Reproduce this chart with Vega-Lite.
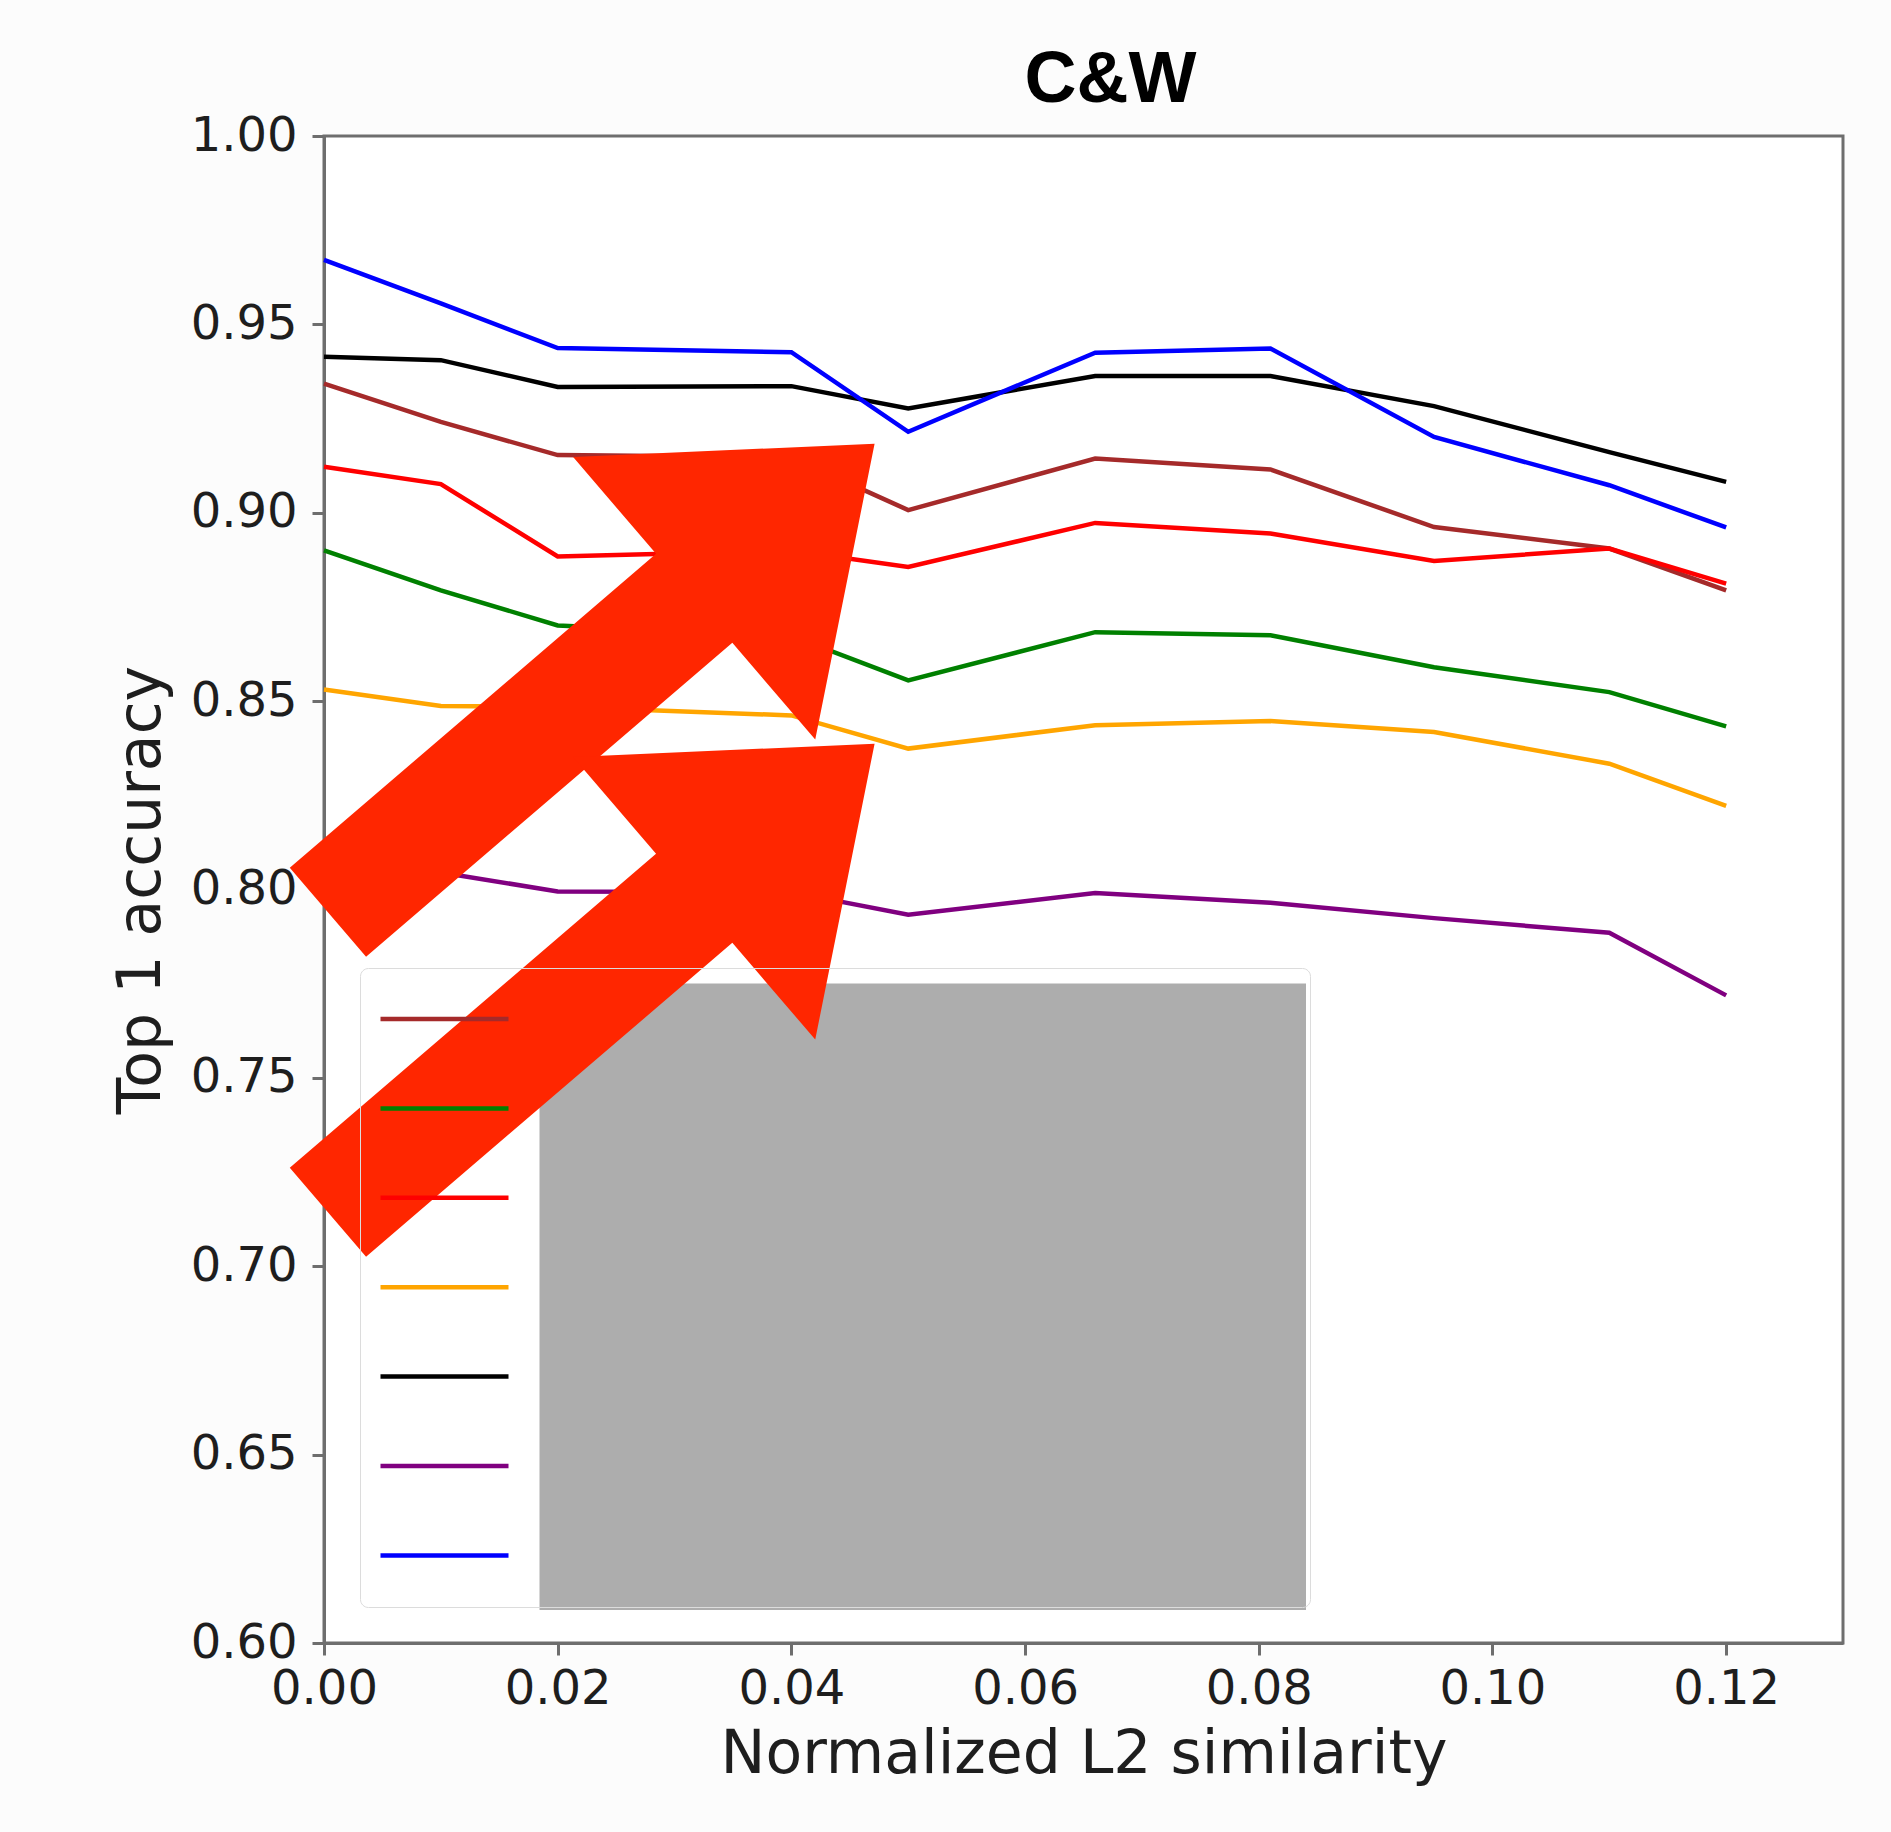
{
  "$schema": "https://vega.github.io/schema/vega-lite/v6.json",
  "width": 1519,
  "height": 1507,
  "autosize": {"type": "none"},
  "padding": {"left": 324, "top": 136, "right": 48, "bottom": 189},
  "background": "#fcfcfc",
  "title": {"text": "C&W", "font": "Liberation Sans", "fontSize": 72, "fontWeight": "bold", "color": "#000000", "anchor": "middle", "dx": 27, "offset": -5},
  "datasets": {
    "curves": [
      {"series": "brown", "similarity": 0, "accuracy": 0.9343},
      {"series": "brown", "similarity": 0.01, "accuracy": 0.9241},
      {"series": "brown", "similarity": 0.02, "accuracy": 0.9153},
      {"series": "brown", "similarity": 0.04, "accuracy": 0.9147},
      {"series": "brown", "similarity": 0.05, "accuracy": 0.9007},
      {"series": "brown", "similarity": 0.066, "accuracy": 0.9144},
      {"series": "brown", "similarity": 0.081, "accuracy": 0.9115},
      {"series": "brown", "similarity": 0.095, "accuracy": 0.8962},
      {"series": "brown", "similarity": 0.11, "accuracy": 0.8905},
      {"series": "brown", "similarity": 0.12, "accuracy": 0.8794},
      {"series": "green", "similarity": 0, "accuracy": 0.8900},
      {"series": "green", "similarity": 0.01, "accuracy": 0.8794},
      {"series": "green", "similarity": 0.02, "accuracy": 0.8701},
      {"series": "green", "similarity": 0.04, "accuracy": 0.8673},
      {"series": "green", "similarity": 0.05, "accuracy": 0.8555},
      {"series": "green", "similarity": 0.066, "accuracy": 0.8683},
      {"series": "green", "similarity": 0.081, "accuracy": 0.8675},
      {"series": "green", "similarity": 0.095, "accuracy": 0.8590},
      {"series": "green", "similarity": 0.11, "accuracy": 0.8524},
      {"series": "green", "similarity": 0.12, "accuracy": 0.8433},
      {"series": "red", "similarity": 0, "accuracy": 0.9122},
      {"series": "red", "similarity": 0.01, "accuracy": 0.9076},
      {"series": "red", "similarity": 0.02, "accuracy": 0.8884},
      {"series": "red", "similarity": 0.04, "accuracy": 0.8900},
      {"series": "red", "similarity": 0.05, "accuracy": 0.8856},
      {"series": "red", "similarity": 0.066, "accuracy": 0.8973},
      {"series": "red", "similarity": 0.081, "accuracy": 0.8945},
      {"series": "red", "similarity": 0.095, "accuracy": 0.8872},
      {"series": "red", "similarity": 0.11, "accuracy": 0.8905},
      {"series": "red", "similarity": 0.12, "accuracy": 0.8812},
      {"series": "orange", "similarity": 0, "accuracy": 0.8531},
      {"series": "orange", "similarity": 0.01, "accuracy": 0.8487},
      {"series": "orange", "similarity": 0.02, "accuracy": 0.8485},
      {"series": "orange", "similarity": 0.04, "accuracy": 0.8462},
      {"series": "orange", "similarity": 0.05, "accuracy": 0.8374},
      {"series": "orange", "similarity": 0.066, "accuracy": 0.8436},
      {"series": "orange", "similarity": 0.081, "accuracy": 0.8447},
      {"series": "orange", "similarity": 0.095, "accuracy": 0.8418},
      {"series": "orange", "similarity": 0.11, "accuracy": 0.8334},
      {"series": "orange", "similarity": 0.12, "accuracy": 0.8222},
      {"series": "black", "similarity": 0, "accuracy": 0.9414},
      {"series": "black", "similarity": 0.01, "accuracy": 0.9405},
      {"series": "black", "similarity": 0.02, "accuracy": 0.9334},
      {"series": "black", "similarity": 0.04, "accuracy": 0.9336},
      {"series": "black", "similarity": 0.05, "accuracy": 0.9277},
      {"series": "black", "similarity": 0.066, "accuracy": 0.9363},
      {"series": "black", "similarity": 0.081, "accuracy": 0.9363},
      {"series": "black", "similarity": 0.095, "accuracy": 0.9283},
      {"series": "black", "similarity": 0.11, "accuracy": 0.9161},
      {"series": "black", "similarity": 0.12, "accuracy": 0.9082},
      {"series": "purple", "similarity": 0, "accuracy": 0.8060},
      {"series": "purple", "similarity": 0.01, "accuracy": 0.8045},
      {"series": "purple", "similarity": 0.02, "accuracy": 0.7995},
      {"series": "purple", "similarity": 0.04, "accuracy": 0.7993},
      {"series": "purple", "similarity": 0.05, "accuracy": 0.7933},
      {"series": "purple", "similarity": 0.066, "accuracy": 0.7991},
      {"series": "purple", "similarity": 0.081, "accuracy": 0.7965},
      {"series": "purple", "similarity": 0.095, "accuracy": 0.7924},
      {"series": "purple", "similarity": 0.11, "accuracy": 0.7885},
      {"series": "purple", "similarity": 0.12, "accuracy": 0.7719},
      {"series": "blue", "similarity": 0, "accuracy": 0.9671},
      {"series": "blue", "similarity": 0.01, "accuracy": 0.9556},
      {"series": "blue", "similarity": 0.02, "accuracy": 0.9437},
      {"series": "blue", "similarity": 0.04, "accuracy": 0.9426},
      {"series": "blue", "similarity": 0.05, "accuracy": 0.9215},
      {"series": "blue", "similarity": 0.066, "accuracy": 0.9425},
      {"series": "blue", "similarity": 0.081, "accuracy": 0.9436},
      {"series": "blue", "similarity": 0.095, "accuracy": 0.9201},
      {"series": "blue", "similarity": 0.11, "accuracy": 0.9073},
      {"series": "blue", "similarity": 0.12, "accuracy": 0.8961}
    ],
    "redaction": [{"similarity": 0.018443, "similarity_end": 0.084042, "accuracy": 0.77505, "accuracy_end": 0.60876}],
    "arrows": [{"similarity": 0.023728, "accuracy": 0.85615}, {"similarity": 0.023728, "accuracy": 0.77652}]
  },
  "layer": [
    {
      "data": {"name": "curves"},
      "mark": {"type": "line", "strokeWidth": 4.5},
      "encoding": {
        "x": {
          "field": "similarity", "type": "quantitative",
          "scale": {"domain": [0, 0.13], "nice": false, "zero": false},
          "axis": {
            "title": "Normalized L2 similarity",
            "values": [0, 0.02, 0.04, 0.06, 0.08, 0.1, 0.12],
            "format": ".2f", "labelPadding": 10, "titlePadding": 12
          }
        },
        "y": {
          "field": "accuracy", "type": "quantitative",
          "scale": {"domain": [0.6, 1.0], "nice": false, "zero": false},
          "axis": {
            "title": "Top 1 accuracy",
            "values": [0.6, 0.65, 0.7, 0.75, 0.8, 0.85, 0.9, 0.95, 1.0],
            "format": ".2f", "labelPadding": 15, "titlePadding": 18
          }
        },
        "color": {
          "field": "series", "type": "nominal",
          "scale": {
            "domain": ["brown", "green", "red", "orange", "black", "purple", "blue"],
            "range": ["#a52a2a", "#008000", "#ff0000", "#ffa500", "#000000", "#800080", "#0000ff"]
          },
          "legend": {
            "orient": "none", "legendX": 36, "legendY": 832, "title": null,
            "symbolType": "stroke", "symbolSize": 16384, "symbolStrokeWidth": 4.5,
            "clipHeight": 86, "rowPadding": 3.4, "padding": 8, "symbolOffset": 10,
            "labelOffset": 634, "labelOpacity": 0, "labelFontSize": 48, "labelFont": "DejaVu Sans",
            "strokeColor": "#dcdcdc", "cornerRadius": 8
          }
        }
      }
    },
    {
      "data": {"name": "redaction"},
      "mark": {"type": "rect", "color": "#adadad"},
      "encoding": {
        "x": {"field": "similarity", "type": "quantitative"},
        "x2": {"field": "similarity_end"},
        "y": {"field": "accuracy", "type": "quantitative"},
        "y2": {"field": "accuracy_end"}
      }
    },
    {
      "data": {"name": "arrows"},
      "mark": {
        "type": "point",
        "shape": "M0,-1L0.5167,-0.34L0.1628,-0.34L0.1628,1L-0.1628,1L-0.1628,-0.34L-0.5167,-0.34Z",
        "filled": true, "color": "#ff2600", "opacity": 1, "size": 518400, "angle": 49.4, "strokeWidth": 0
      },
      "encoding": {
        "x": {"field": "similarity", "type": "quantitative"},
        "y": {"field": "accuracy", "type": "quantitative"}
      }
    }
  ],
  "config": {
    "view": {"stroke": "#6e6e6e", "strokeWidth": 3, "fill": "#ffffff"},
    "axis": {
      "grid": false,
      "domainColor": "#6e6e6e", "domainWidth": 3,
      "tickColor": "#6e6e6e", "tickWidth": 3, "tickSize": 12,
      "labelFont": "DejaVu Sans", "labelFontSize": 48, "labelColor": "#1e1e1e",
      "labelFlush": false, "labelOverlap": false,
      "titleFont": "DejaVu Sans", "titleFontSize": 60, "titleFontWeight": "normal", "titleColor": "#1e1e1e"
    }
  }
}
